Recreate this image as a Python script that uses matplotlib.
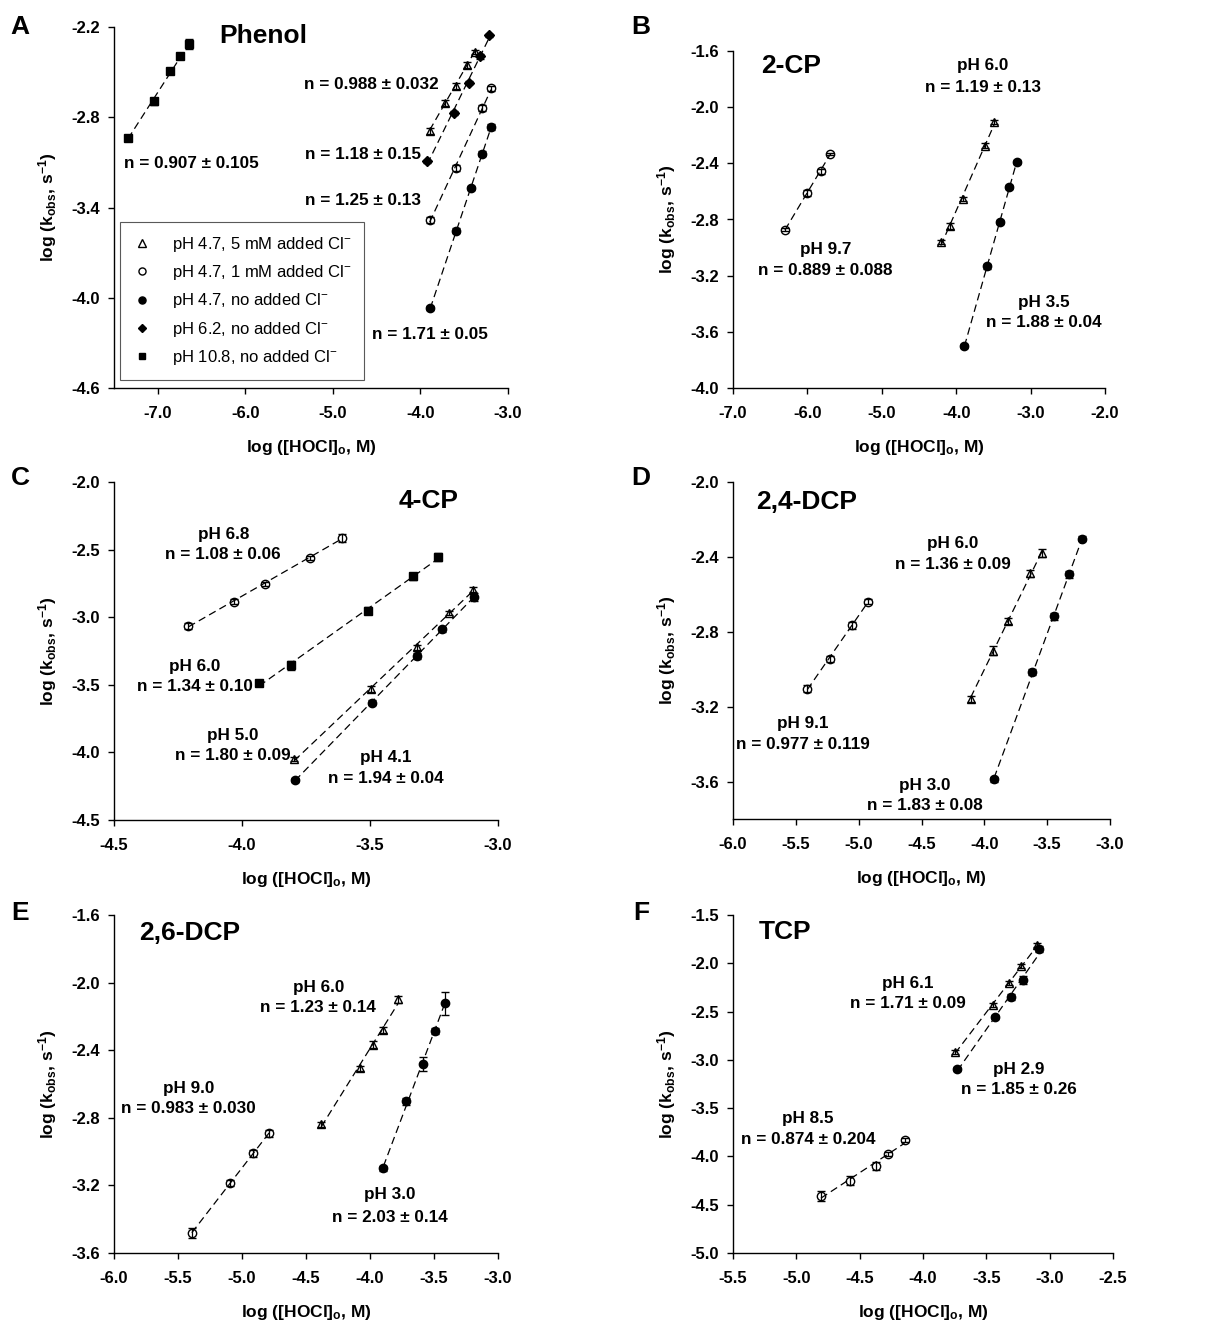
import numpy as np
import matplotlib
matplotlib.use("Agg")
import matplotlib.pyplot as plt

W, H = 1212, 1324

# ---------------- data (log [HOCl]o, log kobs, error) ----------------
# A: phenol
a_tri_x = [-3.895, -3.724, -3.598, -3.469, -3.381]
a_tri_y = [-2.889, -2.705, -2.590, -2.450, -2.366]
a_tri_e = [0.02, 0.02, 0.02, 0.02, 0.015]
a_opn_x = [-3.895, -3.590, -3.293, -3.194]
a_opn_y = [-3.485, -3.137, -2.739, -2.608]
a_opn_e = [0.02, 0.02, 0.02, 0.015]
a_fil_x = [-3.888, -3.590, -3.419, -3.297, -3.194]
a_fil_y = [-4.068, -3.554, -3.270, -3.042, -2.867]
a_fil_e = [0.015, 0.015, 0.015, 0.015, 0.02]
a_dia_x = [-3.922, -3.621, -3.446, -3.320, -3.221]
a_dia_y = [-3.093, -2.772, -2.572, -2.395, -2.255]
a_dia_e = [0.01, 0.015, 0.01, 0.015, 0.01]
a_sq_x = [-7.340, -7.046, -6.863, -6.741, -6.638]
a_sq_y = [-2.938, -2.694, -2.495, -2.395, -2.313]
a_sq_e = [0.02, 0.025, 0.02, 0.02, 0.03]

# B: 2-CP
b_opn_x = [-6.302, -6.006, -5.823, -5.697]
b_opn_y = [-2.873, -2.613, -2.458, -2.333]
b_opn_e = [0.01, 0.02, 0.02, 0.01]
b_tri_x = [-4.207, -4.082, -3.907, -3.611, -3.486]
b_tri_y = [-2.961, -2.845, -2.655, -2.273, -2.103]
b_tri_e = [0.015, 0.02, 0.015, 0.02, 0.015]
b_fil_x = [-3.889, -3.589, -3.410, -3.289, -3.186]
b_fil_y = [-3.703, -3.134, -2.819, -2.570, -2.392]
b_fil_e = [0.015, 0.015, 0.015, 0.015, 0.015]

# C: 4-CP
c_opn_x = [-4.209, -4.033, -3.909, -3.733, -3.609]
c_opn_y = [-3.064, -2.884, -2.751, -2.559, -2.411]
c_opn_e = [0.02, 0.015, 0.015, 0.015, 0.03]
c_sq_x = [-3.933, -3.809, -3.507, -3.333, -3.233]
c_sq_y = [-3.490, -3.357, -2.951, -2.697, -2.557]
c_sq_e = [0.02, 0.03, 0.025, 0.025, 0.03]
c_tri_x = [-3.796, -3.496, -3.318, -3.193, -3.097]
c_tri_y = [-4.052, -3.530, -3.222, -2.968, -2.796]
c_tri_e = [0.015, 0.02, 0.02, 0.015, 0.02]
c_fil_x = [-3.793, -3.492, -3.317, -3.219, -3.095]
c_fil_y = [-4.204, -3.633, -3.288, -3.089, -2.850]
c_fil_e = [0.015, 0.02, 0.02, 0.02, 0.03]

# D: 2,4-DCP
d_opn_x = [-5.409, -5.229, -5.054, -4.927]
d_opn_y = [-3.103, -2.945, -2.766, -2.639]
d_opn_e = [0.02, 0.015, 0.02, 0.015]
d_tri_x = [-4.108, -3.935, -3.808, -3.636, -3.538]
d_tri_y = [-3.158, -2.901, -2.741, -2.488, -2.378]
d_tri_e = [0.015, 0.025, 0.015, 0.02, 0.02]
d_fil_x = [-3.922, -3.623, -3.445, -3.326, -3.220]
d_fil_y = [-3.588, -3.016, -2.718, -2.493, -2.302]
d_fil_e = [0.015, 0.015, 0.02, 0.02, 0.015]

# E: 2,6-DCP
e_opn_x = [-5.392, -5.095, -4.912, -4.787]
e_opn_y = [-3.482, -3.186, -3.009, -2.891]
e_opn_e = [0.03, 0.02, 0.02, 0.02]
e_tri_x = [-4.380, -4.077, -3.978, -3.900, -3.780]
e_tri_y = [-2.837, -2.506, -2.368, -2.280, -2.099]
e_tri_e = [0.015, 0.015, 0.02, 0.02, 0.02]
e_fil_x = [-3.895, -3.717, -3.587, -3.495, -3.415]
e_fil_y = [-3.098, -2.703, -2.481, -2.286, -2.122]
e_fil_e = [0.015, 0.02, 0.04, 0.02, 0.068]

# F: TCP
f_opn_x = [-4.806, -4.574, -4.372, -4.275, -4.146]
f_opn_y = [-4.407, -4.252, -4.097, -3.972, -3.834]
f_opn_e = [0.05, 0.045, 0.04, 0.02, 0.02]
f_tri_x = [-3.746, -3.446, -3.320, -3.223, -3.097]
f_tri_y = [-2.921, -2.431, -2.207, -2.024, -1.810]
f_tri_e = [0.02, 0.02, 0.02, 0.02, 0.02]
f_fil_x = [-3.728, -3.431, -3.302, -3.207, -3.084]
f_fil_y = [-3.093, -2.552, -2.352, -2.172, -1.852]
f_fil_e = [0.02, 0.02, 0.03, 0.04, 0.03]

legend_labels = ["pH 4.7, 5 mM added Cl$^{-}$", "pH 4.7, 1 mM added Cl$^{-}$",
                 "pH 4.7, no added Cl$^{-}$", "pH 6.2, no added Cl$^{-}$",
                 "pH 10.8, no added Cl$^{-}$"]

# ---------------- style ----------------
plt.rcParams["font.family"] = ["Liberation Sans", "DejaVu Sans"]
plt.rcParams["font.weight"] = "bold"
plt.rcParams["axes.labelweight"] = "bold"
plt.rcParams["mathtext.default"] = "regular"
plt.rcParams["axes.unicode_minus"] = False

TICK = 12
ANN = 12.3
TITLE = 19
LAB = 12.5

fig = plt.figure(figsize=(W / 100, H / 100), dpi=100)


def add_panel(l, r, t, b):
    ax = fig.add_axes([l / W, 1 - b / H, (r - l) / W, (b - t) / H])
    ax.px = (r - l, b - t)
    return ax


def series(ax, x, y, e, marker, filled, ms=6, label=None):
    fc = "black" if filled else "none"
    ax.errorbar(x, y, yerr=e, fmt=marker, ms=ms, mfc=fc, mec="black", mew=1,
                ecolor="black", elinewidth=0.9, capsize=3, capthick=0.9,
                zorder=3, label=label)
    k, b = np.polyfit(x, y, 1)
    xs = np.array([min(x), max(x)])
    ax.plot(xs, k * xs + b, ls=(0, (6, 3.5)), color="black", lw=0.9, zorder=2)


def style(ax, xlim, xticks, ylim, yticks):
    ax.set_xlim(*xlim)
    ax.set_ylim(*ylim)
    ax.set_xticks(xticks)
    ax.set_yticks(yticks)
    ax.set_xticklabels(["%.1f" % v for v in xticks])
    ax.set_yticklabels(["%.1f" % v for v in yticks])
    for s in ["top", "right"]:
        ax.spines[s].set_visible(False)
    for s in ["left", "bottom"]:
        ax.spines[s].set_linewidth(1)
    ax.tick_params(direction="out", length=4, width=1, labelsize=TICK)
    ax.tick_params(axis="x", pad=9)
    ax.tick_params(axis="y", pad=6)
    ax.set_xlabel("log ([HOCl]$_o$, M)", fontsize=LAB)
    ax.set_ylabel("log (k$_{obs}$, s$^{-1}$)", fontsize=LAB)
    w, h = ax.px
    ax.xaxis.set_label_coords(0.5, -50 / h)
    ax.yaxis.set_label_coords(-55 / w, 0.5)


def note(ax, x, y, s, size=None):
    ax.text(x, y, s, ha="center", va="center", fontsize=size or ANN,
            fontweight="bold")


# ---- A ----
ax = add_panel(114, 508, 27, 388)
series(ax, a_tri_x, a_tri_y, a_tri_e, "^", False, label=legend_labels[0])
series(ax, a_opn_x, a_opn_y, a_opn_e, "o", False, label=legend_labels[1])
series(ax, a_fil_x, a_fil_y, a_fil_e, "o", True, label=legend_labels[2])
series(ax, a_dia_x, a_dia_y, a_dia_e, "D", True, ms=5, label=legend_labels[3])
series(ax, a_sq_x, a_sq_y, a_sq_e, "s", True, ms=5.5, label=legend_labels[4])
style(ax, (-7.5, -3.0), [-7.0, -6.0, -5.0, -4.0, -3.0],
      (-4.6, -2.2), [-4.6, -4.0, -3.4, -2.8, -2.2])
note(ax, -5.79, -2.258, "Phenol", TITLE)
note(ax, -6.611, -3.11, "n = 0.907 ± 0.105")
note(ax, -4.562, -2.579, "n = 0.988 ± 0.032")
note(ax, -4.653, -3.049, "n = 1.18 ± 0.15")
note(ax, -4.653, -3.355, "n = 1.25 ± 0.13")
note(ax, -3.895, -4.241, "n = 1.71 ± 0.05")
hs, ls = ax.get_legend_handles_labels()
leg = ax.legend([h[0] for h in hs], ls, loc="lower left",
                bbox_to_anchor=(0.015, 0.022), borderaxespad=0,
                prop={"weight": "normal", "size": 12},
                fancybox=False, edgecolor="0.35", framealpha=1,
                handlelength=1.0, handletextpad=1.3, labelspacing=0.55,
                borderpad=0.8, markerscale=0.85)
leg.get_frame().set_linewidth(0.8)

# ---- B ----
ax = add_panel(733, 1105, 51, 388)
series(ax, b_opn_x, b_opn_y, b_opn_e, "o", False)
series(ax, b_tri_x, b_tri_y, b_tri_e, "^", False)
series(ax, b_fil_x, b_fil_y, b_fil_e, "o", True)
style(ax, (-7.0, -2.0), [-7.0, -6.0, -5.0, -4.0, -3.0, -2.0],
      (-4.0, -1.6), [-4.0, -3.6, -3.2, -2.8, -2.4, -2.0, -1.6])
note(ax, -6.22, -1.704, "2-CP", TITLE)
note(ax, -3.638, -1.704, "pH 6.0")
note(ax, -3.638, -1.858, "n = 1.19 ± 0.13")
note(ax, -5.76, -3.016, "pH 9.7")
note(ax, -5.76, -3.163, "n = 0.889 ± 0.088")
note(ax, -2.828, -3.388, "pH 3.5")
note(ax, -2.828, -3.537, "n = 1.88 ± 0.04")

# ---- C ----
ax = add_panel(114, 498, 482, 820)
series(ax, c_opn_x, c_opn_y, c_opn_e, "o", False)
series(ax, c_sq_x, c_sq_y, c_sq_e, "s", True, ms=5.5)
series(ax, c_tri_x, c_tri_y, c_tri_e, "^", False)
series(ax, c_fil_x, c_fil_y, c_fil_e, "o", True)
style(ax, (-4.5, -3.0), [-4.5, -4.0, -3.5, -3.0],
      (-4.5, -2.0), [-4.5, -4.0, -3.5, -3.0, -2.5, -2.0])
note(ax, -3.271, -2.143, "4-CP", TITLE)
note(ax, -4.073, -2.387, "pH 6.8")
note(ax, -4.073, -2.537, "n = 1.08 ± 0.06")
note(ax, -4.183, -3.362, "pH 6.0")
note(ax, -4.183, -3.515, "n = 1.34 ± 0.10")
note(ax, -4.037, -3.872, "pH 5.0")
note(ax, -4.037, -4.025, "n = 1.80 ± 0.09")
note(ax, -3.438, -4.039, "pH 4.1")
note(ax, -3.438, -4.192, "n = 1.94 ± 0.04")

# ---- D ----
ax = add_panel(733, 1110, 482, 819)
series(ax, d_opn_x, d_opn_y, d_opn_e, "o", False)
series(ax, d_tri_x, d_tri_y, d_tri_e, "^", False)
series(ax, d_fil_x, d_fil_y, d_fil_e, "o", True)
style(ax, (-6.0, -3.0), [-6.0, -5.5, -5.0, -4.5, -4.0, -3.5, -3.0],
      (-3.8, -2.0), [-3.6, -3.2, -2.8, -2.4, -2.0])
note(ax, -5.412, -2.106, "2,4-DCP", TITLE)
note(ax, -4.248, -2.328, "pH 6.0")
note(ax, -4.248, -2.438, "n = 1.36 ± 0.09")
note(ax, -5.446, -3.291, "pH 9.1")
note(ax, -5.446, -3.401, "n = 0.977 ± 0.119")
note(ax, -4.473, -3.623, "pH 3.0")
note(ax, -4.473, -3.730, "n = 1.83 ± 0.08")

# ---- E ----
ax = add_panel(114, 498, 915, 1253)
series(ax, e_opn_x, e_opn_y, e_opn_e, "o", False)
series(ax, e_tri_x, e_tri_y, e_tri_e, "^", False)
series(ax, e_fil_x, e_fil_y, e_fil_e, "o", True)
style(ax, (-6.0, -3.0), [-6.0, -5.5, -5.0, -4.5, -4.0, -3.5, -3.0],
      (-3.6, -1.6), [-3.6, -3.2, -2.8, -2.4, -2.0, -1.6])
note(ax, -5.408, -1.704, "2,6-DCP", TITLE)
note(ax, -4.403, -2.028, "pH 6.0")
note(ax, -4.403, -2.150, "n = 1.23 ± 0.14")
note(ax, -5.418, -2.625, "pH 9.0")
note(ax, -5.418, -2.747, "n = 0.983 ± 0.030")
note(ax, -3.842, -3.255, "pH 3.0")
note(ax, -3.842, -3.387, "n = 2.03 ± 0.14")

# ---- F ----
ax = add_panel(733, 1113, 915, 1253)
series(ax, f_opn_x, f_opn_y, f_opn_e, "o", False)
series(ax, f_tri_x, f_tri_y, f_tri_e, "^", False)
series(ax, f_fil_x, f_fil_y, f_fil_e, "o", True)
style(ax, (-5.5, -2.5), [-5.5, -5.0, -4.5, -4.0, -3.5, -3.0, -2.5],
      (-5.0, -1.5), [-5.0, -4.5, -4.0, -3.5, -3.0, -2.5, -2.0, -1.5])
note(ax, -5.09, -1.672, "TCP", TITLE)
note(ax, -4.117, -2.207, "pH 6.1")
note(ax, -4.117, -2.421, "n = 1.71 ± 0.09")
note(ax, -3.247, -3.097, "pH 2.9")
note(ax, -3.247, -3.310, "n = 1.85 ± 0.26")
note(ax, -4.908, -3.603, "pH 8.5")
note(ax, -4.908, -3.821, "n = 0.874 ± 0.204")

# panel letters
for letter, px, py in [("A", 20, 27), ("B", 641, 27), ("C", 20, 478),
                       ("D", 641, 478), ("E", 20, 913), ("F", 641, 913)]:
    fig.text(px / W, 1 - py / H, letter, ha="center", va="center",
             fontsize=19, fontweight="bold")

fig.savefig("out.png", dpi=100)
